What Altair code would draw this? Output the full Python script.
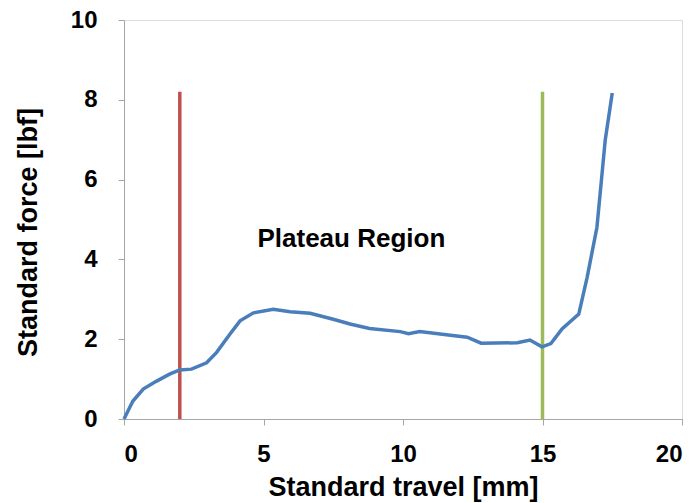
import altair as alt
import pandas as pd

travel = [0.0, 0.32, 0.69, 1.17, 1.65, 2.0, 2.42, 2.96, 3.32, 3.8, 4.16, 4.64, 5.35, 5.95,
          6.67, 7.5, 8.1, 8.8, 9.9, 10.2, 10.6, 11.7, 12.3, 12.8, 14.1, 14.55, 14.98,
          15.3, 15.7, 16.3, 16.6, 16.95, 17.1, 17.25, 17.5]
force = [0.0, 0.45, 0.75, 0.95, 1.13, 1.23, 1.25, 1.41, 1.67, 2.13, 2.46, 2.66, 2.75, 2.69,
         2.65, 2.5, 2.38, 2.27, 2.19, 2.14, 2.19, 2.1, 2.05, 1.9, 1.91, 1.98, 1.81,
         1.89, 2.26, 2.63, 3.55, 4.8, 5.9, 7.0, 8.17]

marker_x = [2, 15]
marker_top = [8.2, 8.2]
marker_color = ["#C0504D", "#9BBB59"]

label_text = ["Plateau Region"]
label_x = [8.15]
label_y = [4.5]

curve_df = pd.DataFrame({"travel": travel, "force": force, "order": list(range(len(travel)))})
marker_df = pd.DataFrame({"x": marker_x, "y0": [0, 0], "y1": marker_top, "c": marker_color})
label_df = pd.DataFrame({"t": label_text, "x": label_x, "y": label_y})

xscale = alt.Scale(domain=[0, 20], nice=False)
yscale = alt.Scale(domain=[0, 10], nice=False)

font = "Liberation Sans"

xaxis = alt.Axis(values=[0, 5, 10, 15, 20], grid=False, domainColor="#A6A6A6", tickColor="#A6A6A6",
                 tickSize=6, labelFont=font, labelFontSize=24, labelFontWeight="bold",
                 labelColor="#000000", labelPadding=17, titleFont=font, titleFontSize=27,
                 titleFontWeight="bold", titleColor="#000000", titlePadding=8)
yaxis = alt.Axis(values=[0, 2, 4, 6, 8, 10], grid=False, domainColor="#A6A6A6", tickColor="#A6A6A6",
                 tickSize=6, labelFont=font, labelFontSize=24, labelFontWeight="bold",
                 labelColor="#000000", labelPadding=21, titleFont=font, titleFontSize=27,
                 titleFontWeight="bold", titleColor="#000000", titlePadding=28, titleY=212)

curve = alt.Chart(curve_df).mark_line(color="#4A7EBB", strokeWidth=3.5).encode(
    x=alt.X("travel:Q", scale=xscale, axis=xaxis, title="Standard travel [mm]"),
    y=alt.Y("force:Q", scale=yscale, axis=yaxis, title="Standard force [lbf]"),
    order="order:Q",
)

markers = alt.Chart(marker_df).mark_rule(strokeWidth=3.5).encode(
    x=alt.X("x:Q", scale=xscale),
    y=alt.Y("y0:Q", scale=yscale),
    y2="y1:Q",
    color=alt.Color("c:N", scale=None),
)

label = alt.Chart(label_df).mark_text(font=font, fontSize=26, fontWeight="bold", color="#000000").encode(
    x=alt.X("x:Q", scale=xscale),
    y=alt.Y("y:Q", scale=yscale),
    text="t:N",
)

chart = alt.layer(markers, curve, label).properties(
    width=558, height=399,
    autosize=alt.AutoSizeParams(type="none"),
    padding={"left": 124, "top": 20, "right": 17, "bottom": 84},
).configure_view(stroke=None).configure(background="#FFFFFF")

chart.save("out.html", embed_options={"renderer": "svg", "actions": False})
